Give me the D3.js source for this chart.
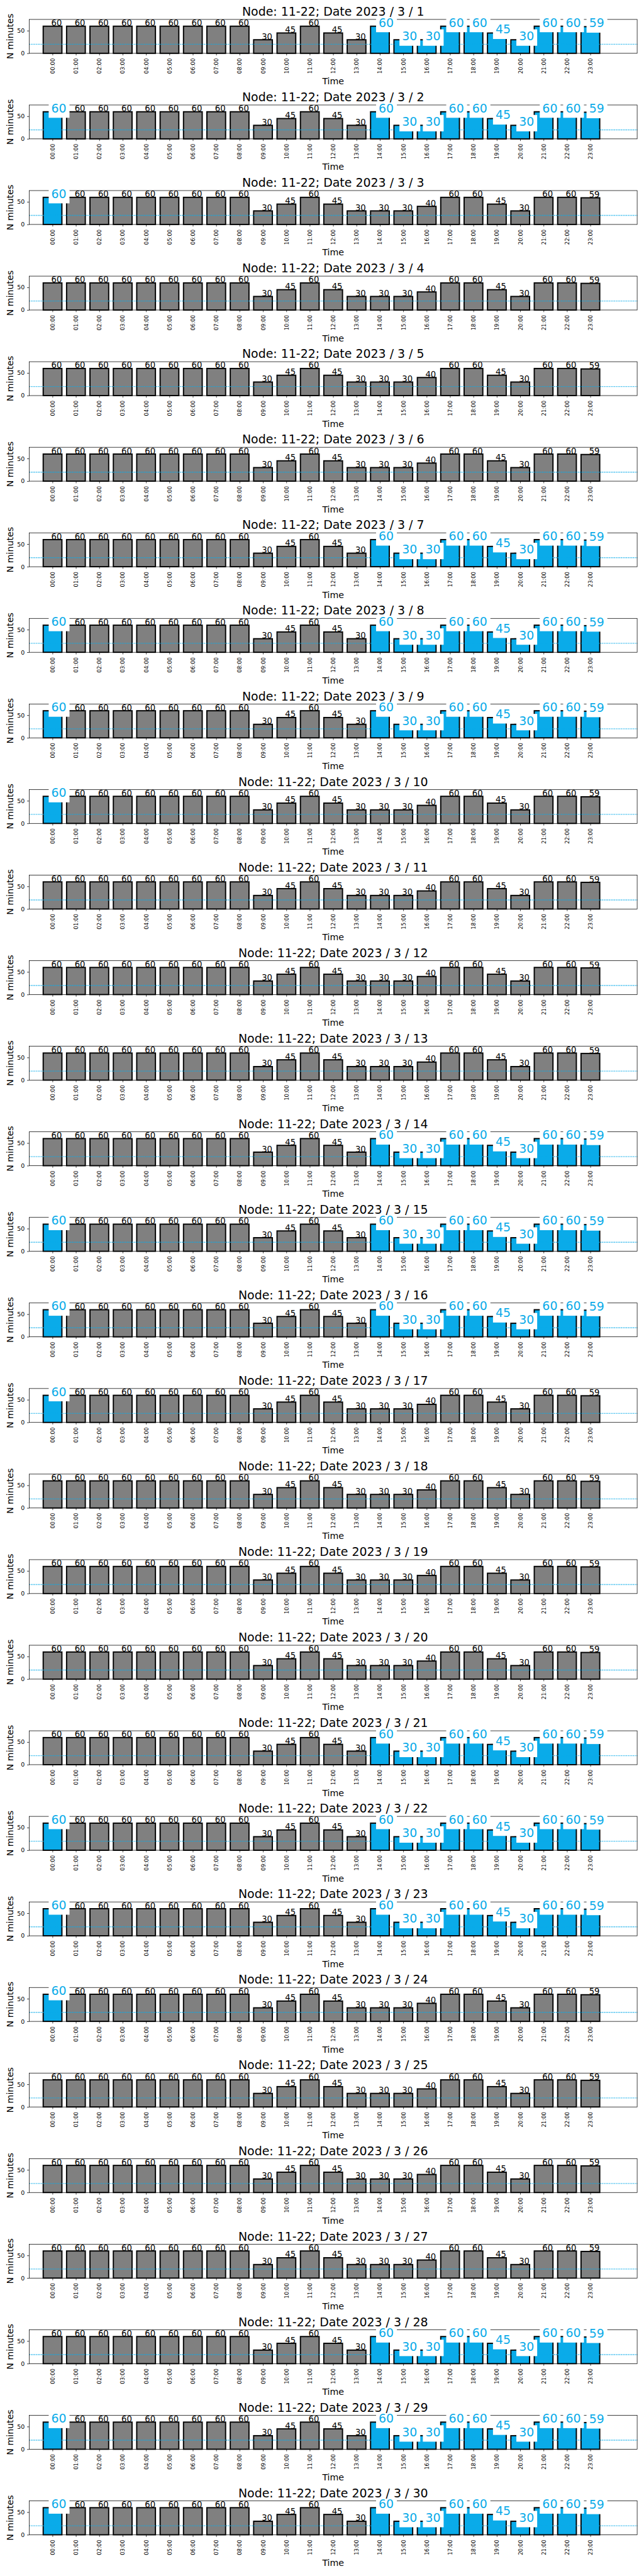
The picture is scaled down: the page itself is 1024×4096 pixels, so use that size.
<!DOCTYPE html>
<html><head><meta charset="utf-8">
<script src="https://cdn.jsdelivr.net/npm/d3@7"></script>
<style>body{margin:0;background:#fff} svg{display:block}</style>
</head><body><svg id="c" width="1024" height="4096"></svg>
<script>
// ---------------- data ----------------
const node = "11-22";
const year = 2023, month = 3;
const days = [1,2,3,4,5,6,7,8,9,10,11,12,13,14,15,16,17,18,19,20,21,22,23,24,25,26,27,28,29,30];
const hours = ["00:00","01:00","02:00","03:00","04:00","05:00","06:00","07:00","08:00","09:00","10:00","11:00",
               "12:00","13:00","14:00","15:00","16:00","17:00","18:00","19:00","20:00","21:00","22:00","23:00"];
const profileA = [60,60,60,60,60,60,60,60,60,30,45,60,45,30,60,30,30,60,60,45,30,60,60,59];
const profileB = [60,60,60,60,60,60,60,60,60,30,45,60,45,30,30,30,40,60,60,45,30,60,60,59];
const dayProfile = ["A","A","B","B","B","B","A","A","A","B","B","B","B","A","A","A","B","B","B","B","A","A","A","B","B","B","B","A","A","A"];
const flagMidnight = [0,1,1,0,0,0,0,1,1,1,0,0,0,0,1,1,1,0,0,0,0,1,1,1,0,0,0,0,1,1];
const flagEvening  = [1,1,0,0,0,0,1,1,1,0,0,0,0,1,1,1,0,0,0,0,1,1,1,0,0,0,0,1,1,1];
const midnightHours = [0];
const eveningHours = [14,15,16,17,18,19,20,21,22,23];
const threshold = 20;
const yTicks = [0, 50];

// ---------------- layout (reference pixel space, scaled) ----------------
const S = 0.682;
const AX_L = 68, AX_R = 1485.5, AX_H = 79, TOP0 = 45.3, STEP = 199.5;
const BLUE = "#0aabe9", GRAY = "#808080";
const FONT = "DejaVu Sans, sans-serif";

const x = d3.scaleLinear().domain([-1, 25]).range([AX_L, AX_R]);
const y = d3.scaleLinear().domain([0, 75]).range([AX_H, 0]);
const bw = x(0.8) - x(0);

const root = d3.select("#c").append("g").attr("transform", `scale(${S})`);

days.forEach((day, i) => {
  const g = root.append("g").attr("transform", `translate(0,${TOP0 + STEP * i})`);
  const vals = dayProfile[i] === "A" ? profileA : profileB;
  const hi = new Set([...(flagMidnight[i] ? midnightHours : []), ...(flagEvening[i] ? eveningHours : [])]);
  const data = vals.map((v, h) => ({h, v, hi: hi.has(h)}));

  // bars
  g.selectAll("rect.bar").data(data).join("rect").attr("class", "bar")
    .attr("x", d => x(d.h) - bw / 2).attr("y", d => y(d.v))
    .attr("width", bw).attr("height", d => y(0) - y(d.v))
    .attr("fill", d => d.hi ? BLUE : GRAY)
    .attr("stroke", "#000").attr("stroke-width", 2.8);

  // threshold line
  g.append("line").attr("x1", AX_L).attr("x2", AX_R)
    .attr("y1", y(threshold)).attr("y2", y(threshold))
    .attr("stroke", BLUE).attr("stroke-width", 2).attr("stroke-dasharray", "2,2");

  // frame
  g.append("rect").attr("x", AX_L).attr("y", 0).attr("width", AX_R - AX_L).attr("height", AX_H)
    .attr("fill", "none").attr("stroke", "#000").attr("stroke-width", 1.1);

  // y axis
  const yg = g.append("g").attr("transform", `translate(${AX_L},0)`)
    .call(d3.axisLeft(y).tickValues(yTicks).tickSize(4.9).tickPadding(5.5));
  yg.select(".domain").remove();
  yg.attr("font-family", FONT).attr("font-size", 13.9);
  yg.selectAll("line").attr("stroke-width", 1.1);

  // x axis
  const xg = g.append("g").attr("transform", `translate(0,${AX_H})`)
    .call(d3.axisBottom(x).tickValues(d3.range(24)).tickFormat(h => hours[h]).tickSize(4.9));
  xg.select(".domain").remove();
  xg.attr("font-family", FONT).attr("font-size", 12.5);
  xg.selectAll("line").attr("stroke-width", 1.1);
  xg.selectAll("text").attr("transform", "rotate(-90)").attr("text-anchor", "end")
    .attr("x", -11.5).attr("y", 0).attr("dy", "0.35em");

  // black value labels
  g.selectAll("text.lab").data(data.filter(d => !d.hi)).join("text").attr("class", "lab")
    .attr("x", d => x(d.h) - 3).attr("y", d => y(d.v) - 0.7)
    .attr("font-family", FONT).attr("font-size", 19.4).attr("fill", "#000")
    .text(d => d.v);

  // highlighted labels with white boxes
  data.filter(d => d.hi).forEach(d => {
    g.append("rect").attr("x", x(d.h) - 9).attr("y", y(d.v) - 24.3)
      .attr("width", 48.5).attr("height", 38.3).attr("fill", "#fff");
    g.append("text").attr("x", x(d.h) - 3).attr("y", y(d.v) + 1.3)
      .attr("font-family", FONT).attr("font-size", 27.8).attr("fill", BLUE)
      .text(d.v);
  });

  // title
  g.append("text").attr("x", (AX_L + AX_R) / 2).attr("y", -8.6).attr("text-anchor", "middle")
    .attr("font-family", FONT).attr("font-size", 27.8)
    .text(`Node: ${node}; Date ${year} / ${month} / ${day}`);

  // y label
  g.append("text").attr("transform", `translate(31.5,${AX_H / 2}) rotate(-90)`).attr("text-anchor", "middle")
    .attr("font-family", FONT).attr("font-size", 20.8).text("N minutes");

  // x label
  g.append("text").attr("x", (AX_L + AX_R) / 2).attr("y", 151.7).attr("text-anchor", "middle")
    .attr("font-family", FONT).attr("font-size", 20.8).text("Time");
});
</script>
</body></html>
